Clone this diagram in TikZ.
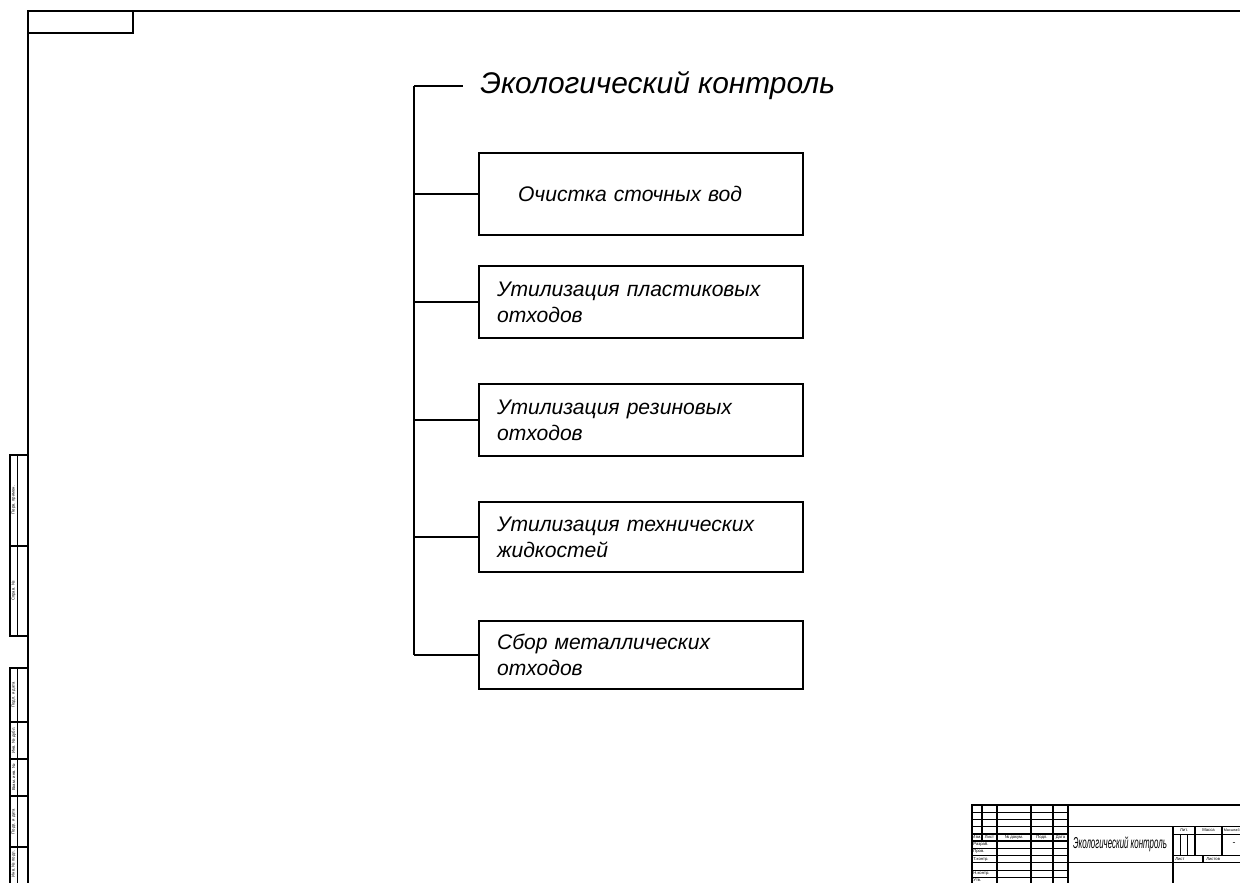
\documentclass[tikz,border=0pt]{standalone}
\usepackage{fontspec}
\setmainfont{Liberation Sans}
\usepackage{tikz}

\begin{document}
\begin{tikzpicture}[x=0.02cm,y=-0.02cm,
	frame/.style={line width=1.1pt},
	tree/.style={line width=0.8pt},
	stampthick/.style={line width=0.8pt},
	stampthin/.style={line width=0.35pt},
	item/.style={draw,line width=0.8pt,align=left,text width=57.6mm,inner xsep=3.6mm,minimum height=14.4mm,font=\fontsize{12}{14.7}\selectfont\itshape},
	lbl/.style={inner sep=0pt,font=\fontsize{2.4}{3}\selectfont}]
	\useasboundingbox (0,0) rectangle (1240,882);
	\clip (0,0) rectangle (1240,882);

	\draw[frame] (28,890) -- (28,11) -- (1250,11);
	\draw[frame] (28,33) -- (133,33) -- (133,11);

	\draw[stampthick] (10,455) rectangle (28,636);
	\draw[stampthick] (17.4,455) -- (17.4,636);
	\draw[stampthick] (10,546) -- (28,546);
	\node[lbl,rotate=90] (s1) at (13.7,500) {Перв. примен.};
	\node[lbl,rotate=90] (s2) at (13.7,591) {Справ. №};

	\draw[stampthick] (10,890) -- (10,668) -- (28,668);
	\draw[stampthick] (17.4,668) -- (17.4,890);
	\draw[stampthick] (10,722) -- (28,722);
	\draw[stampthick] (10,759) -- (28,759);
	\draw[stampthick] (10,796) -- (28,796);
	\draw[stampthick] (10,847) -- (28,847);
	\node[lbl,rotate=90] (s3) at (13.7,695) {Подп. и дата};
	\node[lbl,rotate=90] (s4) at (13.7,740.5) {Инв. № дубл.};
	\node[lbl,rotate=90] (s5) at (13.7,777.5) {Взам. инв. №};
	\node[lbl,rotate=90] (s6) at (13.7,821.5) {Подп. и дата};
	\node[lbl,rotate=90] (s7) at (13.7,864) {Инв. № подл.};

	\coordinate (top) at (414,86);
	\node[anchor=west,inner xsep=3.4mm,font=\fontsize{17}{19}\selectfont\itshape] (title) at (463,86) {Экологический контроль};
	\node[item,text width=49.2mm,inner xsep=7.8mm,minimum height=16.4mm] (water) at (641,194) {Очистка сточных вод};
	\node[item] (plastic) at (641,302) {Утилизация пластиковых\\отходов};
	\node[item] (rubber) at (641,420) {Утилизация резиновых\\отходов};
	\node[item,minimum height=14mm] (fluid) at (641,537) {Утилизация технических\\жидкостей};
	\node[item,minimum height=13.6mm] (metal) at (641,655) {Сбор металлических\\отходов};

	\draw[tree] (top) -- (title.west);
	\draw[tree] (top) -- (metal.west -| top);
	\draw[tree] (water.west -| top) -- (water.west);
	\draw[tree] (plastic.west -| top) -- (plastic.west);
	\draw[tree] (rubber.west -| top) -- (rubber.west);
	\draw[tree] (fluid.west -| top) -- (fluid.west);
	\draw[tree] (metal.west -| top) -- (metal.west);

	\draw[stampthick] (972,890) -- (972,805) -- (1250,805);
	\draw[stampthick] (982,805) -- (982,841);
	\draw[stampthick] (997,805) -- (997,890);
	\draw[stampthick] (1031,805) -- (1031,890);
	\draw[stampthick] (1053,805) -- (1053,890);
	\draw[stampthick] (1068,805) -- (1068,890);
	\draw[stampthin] (972,812.2) -- (1068,812.2);
	\draw[stampthin] (972,819.4) -- (1068,819.4);
	\draw[stampthin] (972,826.6) -- (1068,826.6);
	\draw[stampthick] (972,833.8) -- (1068,833.8);
	\draw[stampthick] (972,841) -- (1068,841);
	\draw[stampthin] (972,848.2) -- (1068,848.2);
	\draw[stampthin] (972,855.4) -- (1068,855.4);
	\draw[stampthick] (972,862.6) -- (1068,862.6);
	\draw[stampthin] (972,869.8) -- (1068,869.8);
	\draw[stampthin] (972,877) -- (1068,877);
	\node[lbl] (izm) at (977,837.4) {Изм.};
	\node[lbl] (list) at (989.5,837.4) {Лист};
	\node[lbl] (doc) at (1014,837.4) {№ докум.};
	\node[lbl] (sign) at (1042,837.4) {Подп.};
	\node[lbl] (date) at (1060.5,837.4) {Дата};
	\node[lbl,anchor=west] (dev) at (973,844.6) {Разраб.};
	\node[lbl,anchor=west] (chk) at (973,851.8) {Пров.};
	\node[lbl,anchor=west] (tch) at (973,859) {Т.контр.};
	\node[lbl,anchor=west] (nch) at (973,873.4) {Н.контр.};
	\node[lbl,anchor=west] (apr) at (973,879.6) {Утв.};

	\draw[stampthick] (1068,826.6) -- (1250,826.6);
	\draw[stampthick] (1068,862.6) -- (1250,862.6);
	\draw[stampthick] (1173,826.6) -- (1173,890);
	\draw[stampthin] (1173,833.8) -- (1250,833.8);
	\draw[stampthin] (1173,855.4) -- (1250,855.4);
	\draw[stampthick] (1195,826.6) -- (1195,855.4);
	\draw[stampthick] (1222,826.6) -- (1222,855.4);
	\draw[stampthin] (1180.2,833.8) -- (1180.2,855.4);
	\draw[stampthin] (1187.4,833.8) -- (1187.4,855.4);
	\draw[stampthick] (1203,855.4) -- (1203,862.6);
	\node[font=\fontsize{9}{10}\selectfont\itshape,inner sep=0pt] (sname) at (1120,844.6) {\scalebox{0.5}[1]{Экологический контроль}};
	\node[lbl] (lit) at (1184,830.2) {Лит.};
	\node[lbl] (mass) at (1208.5,830.2) {Масса};
	\node[lbl,anchor=west,font=\fontsize{2.1}{3}\selectfont] (scl) at (1223.5,830.2) {Масштаб};
	\node[font=\fontsize{5}{6}\selectfont,inner sep=0pt] (dash) at (1234,844.6) {-};
	\node[lbl,anchor=west] (sheet) at (1175,859) {Лист};
	\node[lbl,anchor=west] (sheets) at (1206,859) {Листов};
\end{tikzpicture}
\end{document}
